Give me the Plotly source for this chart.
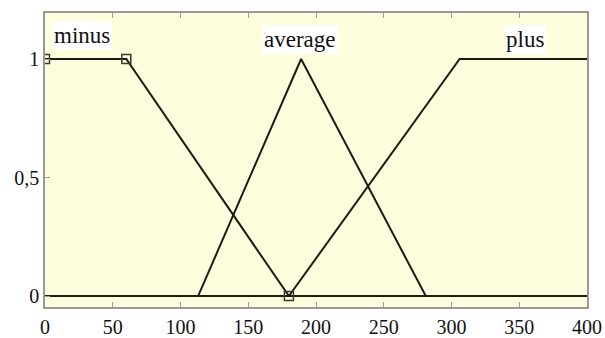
import plotly.graph_objects as go

# Membership functions
minus_x = [0, 60, 180, 400]
minus_y = [1, 1, 0, 0]
average_x = [0, 113, 189, 281, 400]
average_y = [0, 0, 1, 0, 0]
plus_x = [0, 180, 306, 400]
plus_y = [0, 0, 1, 1]
vertex_x = [0, 60, 180]
vertex_y = [1, 1, 0]

labels = ["minus", "average", "plus"]
label_x = [27, 188, 354]
label_y = [1.10, 1.083, 1.083]

x_ticks = [0, 50, 100, 150, 200, 250, 300, 350, 400]
y_ticks = [0, 0.5, 1]
y_ticktext = ["0", "0,5", "1"]

serif = "Liberation Serif, Times New Roman, serif"
line_color = "#1c1c10"
fig = go.Figure()
for xs, ys in [(minus_x, minus_y), (average_x, average_y), (plus_x, plus_y)]:
    fig.add_trace(go.Scatter(x=xs, y=ys, mode="lines",
                             line=dict(color=line_color, width=2), showlegend=False))
fig.add_trace(go.Scatter(x=vertex_x, y=vertex_y, mode="markers",
                         marker=dict(symbol="square-open", size=9,
                                     color="#3a3a2a", line=dict(width=1.5)),
                         showlegend=False))

for t, x, y in zip(labels, label_x, label_y):
    fig.add_annotation(x=x, y=y, text=t, showarrow=False,
                       font=dict(family=serif, size=23, color="#111"),
                       bgcolor="white", borderpad=1)

fig.update_layout(
    width=605, height=338,
    margin=dict(l=45, r=18, t=13, b=31),
    plot_bgcolor="#fefedf",
    paper_bgcolor="white",
    font=dict(family=serif, size=20, color="#111"),
    xaxis=dict(range=[0, 400], tickvals=x_ticks, showgrid=False, zeroline=False,
               showline=True, linecolor="#999", linewidth=1.5, mirror="ticks",
               ticks="inside", ticklen=5, tickcolor="#999", automargin=False,
               ticklabelstandoff=1),
    yaxis=dict(range=[-0.046, 1.194], tickvals=y_ticks, ticktext=y_ticktext,
               showgrid=False, zeroline=False, showline=True, linecolor="#999",
               linewidth=1.5, mirror=True, ticks="inside", ticklen=5,
               tickcolor="#999", automargin=False),
)
fig.write_html("out.html")
